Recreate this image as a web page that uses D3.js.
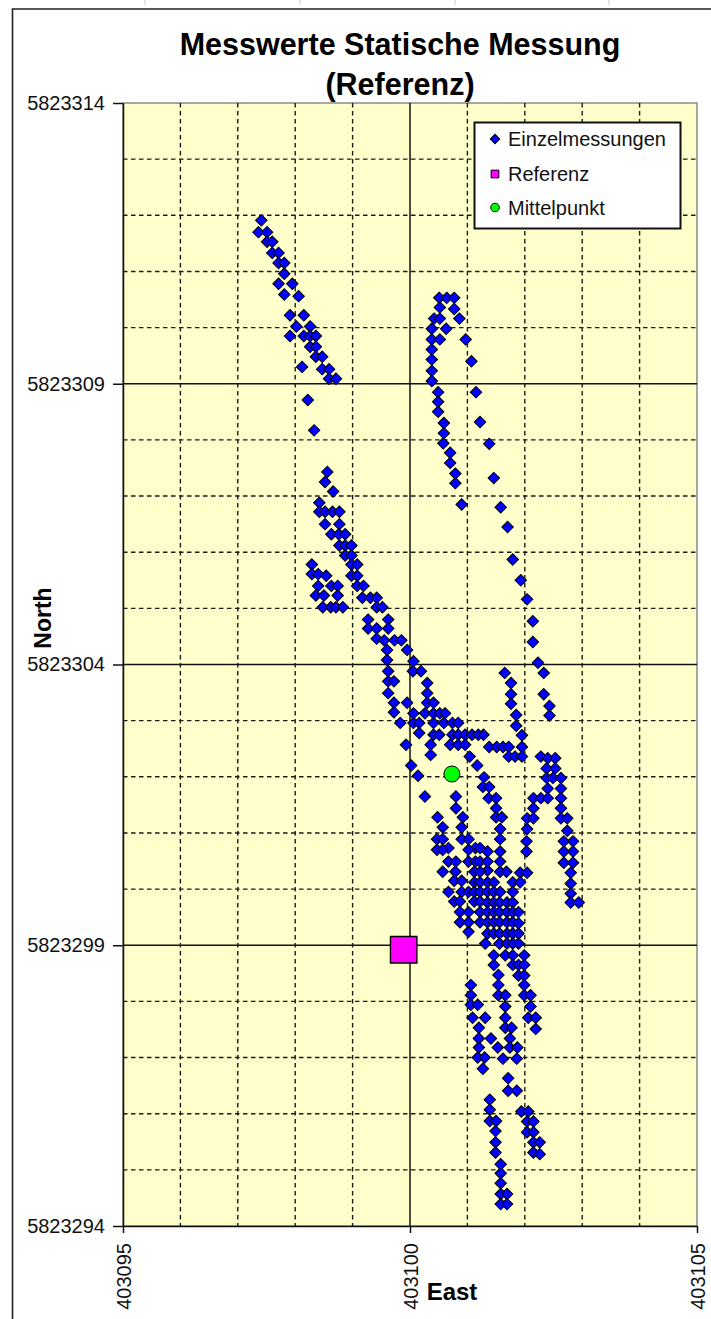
<!DOCTYPE html>
<html>
<head>
<meta charset="utf-8">
<script src="https://cdn.jsdelivr.net/npm/d3@7"></script>
<style>
  body { margin: 0; background: #fff; }
  svg { display: block; font-family: "Liberation Sans", Arial, sans-serif; }
</style>
</head>
<body>
<div id="viz"></div>
<script>
// measured points [East, North], grouped by track segment
let trackNW = [
  [403097.41, 5823311.91], [403097.36, 5823311.70], [403097.51, 5823311.70],
  [403097.51, 5823311.53], [403097.60, 5823311.53], [403097.60, 5823311.33],
  [403097.71, 5823311.33], [403097.71, 5823311.15], [403097.81, 5823311.15],
  [403097.81, 5823310.96], [403097.71, 5823310.78], [403097.95, 5823310.78],
  [403097.81, 5823310.59], [403098.06, 5823310.56], [403097.91, 5823310.22],
  [403098.15, 5823310.22], [403098.02, 5823310.02], [403098.26, 5823310.02],
  [403097.91, 5823309.85], [403098.15, 5823309.85], [403098.26, 5823309.85],
  [403098.36, 5823309.85], [403098.26, 5823309.66], [403098.36, 5823309.66],
  [403098.36, 5823309.48], [403098.47, 5823309.48], [403098.12, 5823309.30],
  [403098.47, 5823309.26], [403098.59, 5823309.26], [403098.59, 5823309.09],
  [403098.71, 5823309.09], [403098.22, 5823308.71], [403098.33, 5823308.17]
]

let trackHook = [
  [403100.51, 5823310.53], [403100.64, 5823310.53], [403100.77, 5823310.53],
  [403100.52, 5823310.36], [403100.77, 5823310.33], [403100.42, 5823310.16],
  [403100.52, 5823310.16], [403100.86, 5823310.16], [403100.38, 5823309.98],
  [403100.63, 5823309.98], [403100.38, 5823309.79], [403100.52, 5823309.79],
  [403100.97, 5823309.79], [403100.38, 5823309.61], [403101.07, 5823309.40],
  [403100.38, 5823309.43], [403100.38, 5823309.23], [403100.38, 5823309.05],
  [403100.49, 5823308.85], [403101.15, 5823308.85], [403100.49, 5823308.68],
  [403100.49, 5823308.50], [403100.59, 5823308.30], [403100.59, 5823308.12],
  [403101.22, 5823308.32], [403101.38, 5823307.93], [403101.46, 5823307.32],
  [403100.58, 5823307.94], [403100.70, 5823307.77], [403100.70, 5823307.59],
  [403100.79, 5823307.40], [403100.79, 5823307.23], [403100.90, 5823306.85],
  [403101.58, 5823306.80], [403101.70, 5823306.45], [403101.79, 5823305.87],
  [403101.93, 5823305.50], [403102.04, 5823305.16], [403102.14, 5823304.77],
  [403102.14, 5823304.40], [403102.23, 5823304.03]
]

let trackMiddle = [
  [403098.56, 5823307.43], [403098.52, 5823307.25], [403098.66, 5823307.08],
  [403098.42, 5823306.88],
  [403098.42, 5823306.72], [403098.52, 5823306.72], [403098.65, 5823306.72], [403098.77, 5823306.72],
  [403098.52, 5823306.50], [403098.77, 5823306.50],
  [403098.63, 5823306.32], [403098.76, 5823306.32], [403098.87, 5823306.32],
  [403098.77, 5823306.12], [403098.87, 5823306.12], [403098.98, 5823306.12],
  [403098.87, 5823305.94], [403098.98, 5823305.94],
  [403098.29, 5823305.78], [403098.98, 5823305.78], [403099.08, 5823305.78],
  [403098.29, 5823305.61], [403098.40, 5823305.61], [403098.54, 5823305.58], [403098.98, 5823305.58], [403099.08, 5823305.58],
  [403098.40, 5823305.40], [403098.63, 5823305.40], [403098.74, 5823305.40], [403099.08, 5823305.40], [403099.19, 5823305.40],
  [403098.36, 5823305.23], [403098.50, 5823305.23], [403098.74, 5823305.23], [403099.17, 5823305.19], [403099.31, 5823305.19], [403099.42, 5823305.19],
  [403098.48, 5823305.02], [403098.62, 5823305.02], [403098.71, 5823305.02], [403098.83, 5823305.02], [403099.42, 5823305.02], [403099.52, 5823305.02],
  [403099.27, 5823304.80], [403099.62, 5823304.80],
  [403099.27, 5823304.64], [403099.42, 5823304.64], [403099.62, 5823304.64],
  [403099.42, 5823304.46], [403099.55, 5823304.43], [403099.73, 5823304.43], [403099.85, 5823304.43],
  [403099.60, 5823304.26], [403099.95, 5823304.26],
  [403099.60, 5823304.08], [403100.06, 5823304.06]
]

let trackCenter = [
  [403099.62, 5823303.88], [403100.05, 5823303.88], [403100.19, 5823303.88],
  [403101.65, 5823303.85], [403102.33, 5823303.85],
  [403099.62, 5823303.70], [403099.72, 5823303.70],
  [403100.30, 5823303.67], [403101.76, 5823303.67],
  [403099.62, 5823303.49], [403100.30, 5823303.49],
  [403101.76, 5823303.47], [403102.33, 5823303.47],
  [403099.72, 5823303.32], [403099.95, 5823303.32], [403100.30, 5823303.32], [403100.41, 5823303.32],
  [403101.76, 5823303.30], [403102.43, 5823303.26],
  [403099.72, 5823303.15],
  [403100.06, 5823303.13], [403100.26, 5823303.13], [403100.41, 5823303.13], [403100.52, 5823303.13], [403100.61, 5823303.13],
  [403101.85, 5823303.10], [403102.43, 5823303.09],
  [403099.83, 5823302.96], [403100.06, 5823302.96], [403100.16, 5823302.96], [403100.41, 5823302.96], [403100.59, 5823302.96], [403100.74, 5823302.96], [403100.84, 5823302.96],
  [403101.85, 5823302.91],
  [403100.16, 5823302.78],
  [403100.41, 5823302.75], [403100.51, 5823302.75], [403100.74, 5823302.75], [403100.84, 5823302.75], [403100.96, 5823302.75], [403101.08, 5823302.75], [403101.19, 5823302.75], [403101.28, 5823302.75],
  [403101.95, 5823302.74],
  [403099.93, 5823302.57], [403100.36, 5823302.57], [403100.70, 5823302.57], [403100.84, 5823302.57], [403100.96, 5823302.57],
  [403101.38, 5823302.53], [403101.51, 5823302.53], [403101.62, 5823302.53], [403101.72, 5823302.53], [403101.95, 5823302.53],
  [403100.36, 5823302.39],
  [403101.04, 5823302.36], [403101.72, 5823302.36], [403101.83, 5823302.36], [403101.95, 5823302.36], [403102.28, 5823302.36],
  [403102.40, 5823302.33], [403102.53, 5823302.33],
  [403100.02, 5823302.20], [403101.17, 5823302.20],
  [403102.38, 5823302.15], [403102.53, 5823302.15],
  [403100.14, 5823302.02], [403101.29, 5823301.99],
  [403102.38, 5823301.98], [403102.49, 5823301.98], [403102.63, 5823301.98],
  [403101.27, 5823301.82], [403101.38, 5823301.82],
  [403102.40, 5823301.79], [403102.63, 5823301.79],
  [403100.26, 5823301.65], [403100.80, 5823301.65],
  [403101.37, 5823301.62], [403101.50, 5823301.62], [403102.15, 5823301.62], [403102.28, 5823301.62], [403102.40, 5823301.62], [403102.63, 5823301.62],
  [403100.80, 5823301.44], [403101.50, 5823301.44], [403102.15, 5823301.44], [403102.63, 5823301.44],
  [403100.48, 5823301.28], [403100.92, 5823301.28], [403101.50, 5823301.28], [403101.60, 5823301.28],
  [403102.04, 5823301.26], [403102.15, 5823301.26], [403102.63, 5823301.26], [403102.74, 5823301.26]
]

let clusterLower = [
  [403100.57, 5823301.10], [403100.90, 5823301.10], [403101.57, 5823301.07], [403102.04, 5823301.07], [403102.74, 5823301.04],
  [403100.47, 5823300.89], [403100.57, 5823300.89], [403100.90, 5823300.89], [403101.02, 5823300.89], [403101.57, 5823300.89],
  [403102.03, 5823300.85], [403102.68, 5823300.85], [403102.84, 5823300.85],
  [403100.67, 5823300.73], [403101.14, 5823300.73], [403101.22, 5823300.73],
  [403100.47, 5823300.70], [403100.57, 5823300.70], [403101.02, 5823300.70],
  [403101.35, 5823300.67], [403101.57, 5823300.67], [403102.03, 5823300.67], [403102.68, 5823300.67], [403102.84, 5823300.67],
  [403100.67, 5823300.49], [403100.80, 5823300.49], [403101.02, 5823300.49], [403101.14, 5823300.49], [403101.22, 5823300.49], [403101.35, 5823300.49], [403101.57, 5823300.49],
  [403102.68, 5823300.47], [403102.84, 5823300.47],
  [403101.35, 5823300.33],
  [403100.57, 5823300.31], [403100.79, 5823300.31], [403101.12, 5823300.31], [403101.22, 5823300.31], [403101.57, 5823300.31], [403101.68, 5823300.31],
  [403101.92, 5823300.29], [403102.04, 5823300.29], [403102.80, 5823300.29],
  [403100.77, 5823300.15], [403100.90, 5823300.15],
  [403101.12, 5823300.12], [403101.22, 5823300.12], [403101.35, 5823300.12], [403101.46, 5823300.12], [403101.79, 5823300.12], [403101.92, 5823300.12],
  [403102.80, 5823300.10],
  [403100.67, 5823299.95], [403100.90, 5823299.95], [403101.02, 5823299.95], [403101.12, 5823299.95], [403101.22, 5823299.95], [403101.35, 5823299.95], [403101.46, 5823299.95], [403101.57, 5823299.95], [403101.79, 5823299.95],
  [403102.80, 5823299.92],
  [403100.77, 5823299.78], [403100.87, 5823299.78], [403101.12, 5823299.78], [403101.22, 5823299.78],
  [403101.35, 5823299.76], [403101.46, 5823299.76], [403101.56, 5823299.76], [403101.69, 5823299.76], [403101.79, 5823299.76], [403102.80, 5823299.76], [403102.94, 5823299.76],
  [403100.87, 5823299.59], [403101.02, 5823299.59], [403101.22, 5823299.59], [403101.35, 5823299.59], [403101.46, 5823299.59], [403101.56, 5823299.59], [403101.69, 5823299.59], [403101.79, 5823299.59], [403101.89, 5823299.59],
  [403100.87, 5823299.41], [403101.02, 5823299.41], [403101.22, 5823299.41], [403101.35, 5823299.41], [403101.46, 5823299.41], [403101.56, 5823299.41], [403101.69, 5823299.41], [403101.79, 5823299.41], [403101.89, 5823299.39],
  [403101.02, 5823299.24],
  [403101.35, 5823299.21], [403101.46, 5823299.21], [403101.56, 5823299.21], [403101.69, 5823299.21], [403101.79, 5823299.21], [403101.89, 5823299.21],
  [403101.31, 5823299.03], [403101.56, 5823299.03], [403101.69, 5823299.03], [403101.79, 5823299.03], [403101.89, 5823299.03],
  [403101.46, 5823298.82], [403101.66, 5823298.82], [403101.79, 5823298.82], [403101.99, 5823298.82],
  [403101.46, 5823298.65], [403101.79, 5823298.65], [403101.89, 5823298.65], [403101.99, 5823298.65],
  [403101.54, 5823298.47], [403101.89, 5823298.46], [403101.99, 5823298.46],
  [403101.06, 5823298.29], [403101.54, 5823298.29], [403101.99, 5823298.29],
  [403101.06, 5823298.11], [403101.54, 5823298.11], [403101.66, 5823298.11], [403101.99, 5823298.11], [403102.10, 5823298.11],
  [403101.06, 5823297.94], [403101.18, 5823297.94], [403101.66, 5823297.91], [403102.10, 5823297.91]
]

let tailSouth = [
  [403101.09, 5823297.71], [403101.31, 5823297.71], [403101.66, 5823297.71], [403102.06, 5823297.71], [403102.19, 5823297.71],
  [403101.20, 5823297.53], [403101.66, 5823297.53], [403101.77, 5823297.53], [403102.19, 5823297.51],
  [403101.20, 5823297.34], [403101.41, 5823297.34], [403101.74, 5823297.34],
  [403101.20, 5823297.18], [403101.53, 5823297.18], [403101.74, 5823297.18], [403101.87, 5823297.18],
  [403101.18, 5823297.00], [403101.30, 5823297.00], [403101.62, 5823296.98], [403101.86, 5823296.98],
  [403101.27, 5823296.80],
  [403101.71, 5823296.63],
  [403101.71, 5823296.41], [403101.86, 5823296.41],
  [403101.39, 5823296.25],
  [403101.39, 5823296.07], [403101.94, 5823296.04], [403102.06, 5823296.04],
  [403101.39, 5823295.87], [403101.50, 5823295.87], [403102.04, 5823295.86], [403102.15, 5823295.86],
  [403101.49, 5823295.69], [403102.04, 5823295.67], [403102.15, 5823295.67],
  [403101.49, 5823295.49], [403102.15, 5823295.49], [403102.26, 5823295.49],
  [403101.49, 5823295.31], [403102.15, 5823295.31], [403102.26, 5823295.28],
  [403101.58, 5823295.10],
  [403101.58, 5823294.94],
  [403101.58, 5823294.76],
  [403101.58, 5823294.57], [403101.69, 5823294.57],
  [403101.58, 5823294.39], [403101.69, 5823294.39]
]

let referenz = [[403099.89, 5823298.92]]
let mittelpunkt = [[403100.73, 5823302.05]]

let xTicks = [403095, 403100, 403105]
let yTicks = [5823294, 5823299, 5823304, 5823309, 5823314]
let legendLabels = ['Einzelmessungen', 'Referenz', 'Mittelpunkt']

let einzel = [].concat(trackNW, trackHook, trackMiddle, trackCenter, clusterLower, tailSouth)

let width = 711
let height = 1319
let plot = { left: 123, right: 697, top: 103, bottom: 1226 }

let svgContainer = d3.select('#viz')
  .append('svg')
  .attr('width', width)
  .attr('height', height)

let x = d3.scaleLinear().domain([403095, 403105]).range([plot.left, plot.right])
let y = d3.scaleLinear().domain([5823294, 5823314]).range([plot.bottom, plot.top])

// chart frame (only top/left visible in the crop)
svgContainer.append('path')
  .attr('d', 'M12.5,' + height + 'V9H' + width)
  .attr('fill', 'none')
  .attr('stroke', '#222')
  .attr('stroke-width', 1.6)

// spreadsheet column marks peeking above the chart
;[145, 300, 455, 609].forEach((cx) => {
  svgContainer.append('line')
    .attr('x1', cx).attr('x2', cx).attr('y1', 0).attr('y2', 5)
    .attr('stroke', '#c8c8c8')
})

// plot area
svgContainer.append('rect')
  .attr('x', plot.left)
  .attr('y', plot.top)
  .attr('width', plot.right - plot.left)
  .attr('height', plot.bottom - plot.top)
  .attr('fill', '#FFFFCC')
  .attr('stroke', '#8a8a8a')
  .attr('stroke-width', 1.5)

let xMinor = d3.range(403096, 403105).filter(d => d !== 403100)
let yMinor = d3.range(5823295, 5823314).filter(d => (d - 5823294) % 5 !== 0)
let xMajor = [403100]
let yMajor = [5823299, 5823304, 5823309]

let grid = svgContainer.append('g')

grid.selectAll('.vminor').data(xMinor).enter().append('line')
  .attr('x1', d => x(d)).attr('x2', d => x(d))
  .attr('y1', plot.top).attr('y2', plot.bottom)
  .attr('stroke', '#1a1a1a').attr('stroke-width', 1.4)
  .attr('stroke-dasharray', '4.5,3.5')

grid.selectAll('.hminor').data(yMinor).enter().append('line')
  .attr('x1', plot.left).attr('x2', plot.right)
  .attr('y1', d => y(d)).attr('y2', d => y(d))
  .attr('stroke', '#1a1a1a').attr('stroke-width', 1.4)
  .attr('stroke-dasharray', '4.5,3.5')

grid.selectAll('.vmajor').data(xMajor).enter().append('line')
  .attr('x1', d => x(d)).attr('x2', d => x(d))
  .attr('y1', plot.top).attr('y2', plot.bottom)
  .attr('stroke', '#111').attr('stroke-width', 1.5)

grid.selectAll('.hmajor').data(yMajor).enter().append('line')
  .attr('x1', plot.left).attr('x2', plot.right)
  .attr('y1', d => y(d)).attr('y2', d => y(d))
  .attr('stroke', '#111').attr('stroke-width', 1.5)

// axes
let yAxis = svgContainer.append('g')
  .attr('transform', 'translate(' + plot.left + ',0)')
  .call(d3.axisLeft(y).tickValues(yTicks).tickSize(10).tickSizeOuter(0).tickPadding(8).tickFormat(d3.format('d')))
yAxis.selectAll('text').attr('font-size', 20).attr('fill', '#111').attr('font-family', null)

let xAxis = svgContainer.append('g')
  .attr('transform', 'translate(0,' + plot.bottom + ')')
  .call(d3.axisBottom(x).tickValues(xTicks).tickSize(7).tickSizeOuter(0).tickFormat(d3.format('d')))
xAxis.selectAll('text')
  .attr('font-size', 20).attr('fill', '#111').attr('font-family', null)
  .attr('transform', 'rotate(-90)')
  .attr('text-anchor', 'end')
  .attr('x', -17).attr('y', 0).attr('dy', '0.35em')

svgContainer.selectAll('.domain, .tick line').attr('stroke', '#111').attr('stroke-width', 1.5)

// series
let diamond = d3.symbol().type(d3.symbolSquare).size(66)

svgContainer.append('g').selectAll('path').data(einzel).enter().append('path')
  .attr('d', diamond)
  .attr('transform', d => 'translate(' + x(d[0]) + ',' + y(d[1]) + ') rotate(45)')
  .attr('fill', '#0000FF')
  .attr('stroke', '#000')
  .attr('stroke-width', 1)

svgContainer.append('g').selectAll('path').data(referenz).enter().append('path')
  .attr('d', d3.symbol().type(d3.symbolSquare).size(26.5 * 26.5))
  .attr('transform', d => 'translate(' + x(d[0]) + ',' + y(d[1]) + ')')
  .attr('fill', '#FF00FF')
  .attr('stroke', '#000')
  .attr('stroke-width', 1.3)

svgContainer.append('g').selectAll('circle').data(mittelpunkt).enter().append('circle')
  .attr('cx', d => x(d[0]))
  .attr('cy', d => y(d[1]))
  .attr('r', 8)
  .attr('fill', '#00FF00')
  .attr('stroke', '#000')
  .attr('stroke-width', 1)

// title and axis titles
svgContainer.append('text')
  .attr('x', 400).attr('y', 55)
  .attr('text-anchor', 'middle')
  .attr('font-size', 30.5).attr('font-weight', 'bold')
  .text('Messwerte Statische Messung')

svgContainer.append('text')
  .attr('x', 400).attr('y', 95)
  .attr('text-anchor', 'middle')
  .attr('font-size', 30.5).attr('font-weight', 'bold')
  .text('(Referenz)')

svgContainer.append('text')
  .attr('x', 452).attr('y', 1300)
  .attr('text-anchor', 'middle')
  .attr('font-size', 24).attr('font-weight', 'bold')
  .text('East')

svgContainer.append('text')
  .attr('transform', 'translate(51,618) rotate(-90)')
  .attr('text-anchor', 'middle')
  .attr('font-size', 23).attr('font-weight', 'bold')
  .text('North')

// legend
let legend = svgContainer.append('g')
legend.append('rect')
  .attr('x', 474.5).attr('y', 122.5)
  .attr('width', 206).attr('height', 106)
  .attr('fill', '#fff')
  .attr('stroke', '#111')
  .attr('stroke-width', 2)

let rowY = [139, 174, 207.5]
legend.append('path')
  .attr('d', d3.symbol().type(d3.symbolSquare).size(44))
  .attr('transform', 'translate(495,' + rowY[0] + ') rotate(45)')
  .attr('fill', '#0000FF').attr('stroke', '#000')
legend.append('path')
  .attr('d', d3.symbol().type(d3.symbolSquare).size(60))
  .attr('transform', 'translate(495,' + rowY[1] + ')')
  .attr('fill', '#FF00FF').attr('stroke', '#000')
legend.append('circle')
  .attr('cx', 495).attr('cy', rowY[2]).attr('r', 4.3)
  .attr('fill', '#00FF00').attr('stroke', '#000')

legend.selectAll('.lbl').data(legendLabels).enter().append('text')
  .attr('x', 508)
  .attr('y', (d, i) => rowY[i])
  .attr('dy', '0.35em')
  .attr('font-size', 20)
  .attr('fill', '#111')
  .text(d => d)
</script>
</body>
</html>
